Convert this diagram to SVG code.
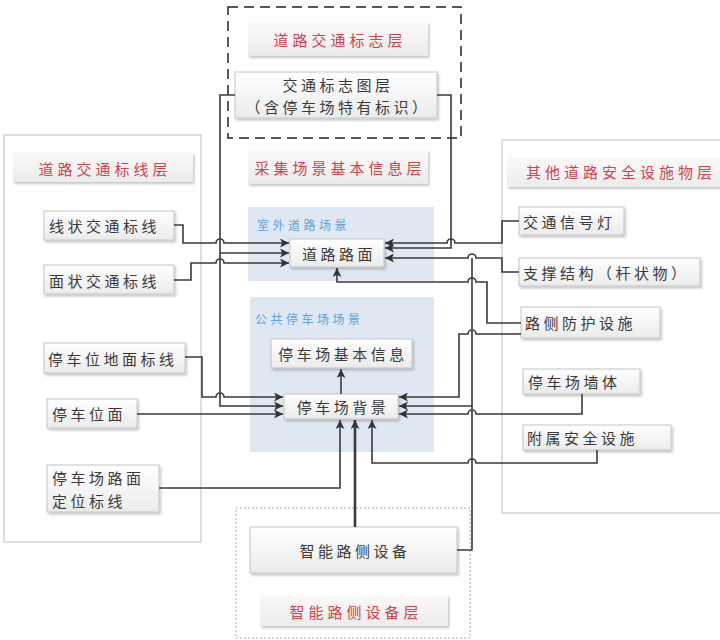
<svg xmlns="http://www.w3.org/2000/svg" width="720" height="640" viewBox="0 0 720 640">
<defs>
<linearGradient id="g" x1="0" y1="0" x2="0" y2="1"><stop offset="0" stop-color="#ffffff"/><stop offset="1" stop-color="#ebebeb"/></linearGradient>
<linearGradient id="gt" x1="0" y1="0" x2="0" y2="1"><stop offset="0" stop-color="#fbf8f8"/><stop offset="1" stop-color="#ececec"/></linearGradient>
<filter id="sh" x="-10%" y="-20%" width="125%" height="150%"><feDropShadow dx="1.5" dy="2" stdDeviation="1.2" flood-color="#000" flood-opacity="0.22"/></filter>
<marker id="ar" viewBox="0 0 10 10" refX="10" refY="5" markerWidth="10" markerHeight="9" markerUnits="userSpaceOnUse" orient="auto"><path d="M0,0 L10,5 L0,10 L2.5,5 Z" fill="#333"/></marker>
</defs>
<style>
.box{fill:url(#g);stroke:#c4c4c4;stroke-width:1;filter:url(#sh)}
.tbox{fill:url(#gt);stroke:none;filter:url(#sh)}
.panel{fill:#fff;stroke:#c8c8c8;stroke-width:1.2}
.scene{fill:#dfe8f2;stroke:none}
text{font-family:"Noto Sans CJK SC","Noto Sans",sans-serif;dominant-baseline:central}
.t{font-size:15px;fill:#3a3a3a;letter-spacing:3.5px}
.r{font-size:15px;fill:#cc4450;letter-spacing:4px}
.b{font-size:12px;fill:#5f9fd8;letter-spacing:3.5px}
.c{fill:none;stroke:#3a3a3a;stroke-width:1.6}
.ca{fill:none;stroke:#3a3a3a;stroke-width:1.6;marker-end:url(#ar)}
</style>

<g id="layer-sign">
<rect x="228" y="7" width="233" height="131" fill="none" stroke="#222" stroke-width="1.5" stroke-dasharray="10 6"/>
<rect class="tbox" x="248" y="22" width="180" height="34"/>
<text class="r" x="340" y="39" text-anchor="middle">道路交通标志层</text>
</g>
<g id="node-sign">
<rect class="box" x="235" y="72" width="202" height="46"/>
<text class="t" x="338" y="84" text-anchor="middle">交通标志图层</text>
<text class="t" x="338" y="106" text-anchor="middle">（含停车场特有标识）</text>
</g>

<g id="layer-marking">
<rect class="panel" x="4" y="135" width="197" height="407"/>
<rect class="tbox" x="13" y="152" width="180" height="30"/>
<text class="r" x="105" y="168" text-anchor="middle">道路交通标线层</text>
</g>
<g id="node-line-mark"><rect class="box" x="44" y="211" width="130" height="29"/><text class="t" x="49" y="225">线状交通标线</text></g>
<g id="node-area-mark"><rect class="box" x="44" y="265" width="130" height="29"/><text class="t" x="49" y="280">面状交通标线</text></g>
<g id="node-space-mark"><rect class="box" x="44" y="343" width="141" height="30"/><text class="t" x="48" y="358">停车位地面标线</text></g>
<g id="node-space-area"><rect class="box" x="47" y="399" width="90" height="29"/><text class="t" x="52" y="413">停车位面</text></g>
<g id="node-locate-mark"><rect class="box" x="47" y="465" width="112" height="47"/><text class="t" x="52" y="477">停车场路面</text><text class="t" x="52" y="500">定位标线</text></g>

<g id="layer-scene">
<rect class="tbox" x="248" y="150" width="180" height="34"/>
<text class="r" x="340" y="167" text-anchor="middle">采集场景基本信息层</text>
<rect class="scene" x="248" y="207" width="186" height="74"/>
<text class="b" x="257" y="224">室外道路场景</text>
<rect class="scene" x="250" y="297" width="184" height="155"/>
<text class="b" x="255" y="318">公共停车场场景</text>
</g>
<g id="node-road"><rect class="box" x="290" y="239" width="94" height="28"/><text class="t" x="339" y="253" text-anchor="middle">道路路面</text></g>
<g id="node-park-info"><rect class="box" x="271" y="339" width="141" height="29"/><text class="t" x="343" y="353" text-anchor="middle">停车场基本信息</text></g>
<g id="node-park-bg"><rect class="box" x="284" y="394" width="114" height="25"/><text class="t" x="343" y="406" text-anchor="middle">停车场背景</text></g>

<g id="layer-safety">
<rect class="panel" x="502" y="140" width="240" height="373"/>
<rect class="tbox" x="507" y="157" width="230" height="30"/>
<text class="r" x="526" y="171">其他道路安全设施物层</text>
</g>
<g id="node-signal"><rect class="box" x="519" y="207" width="105" height="28"/><text class="t" x="523" y="221">交通信号灯</text></g>
<g id="node-pole"><rect class="box" x="519" y="258" width="181" height="28"/><text class="t" x="523" y="272">支撑结构（杆状物）</text></g>
<g id="node-guard"><rect class="box" x="521" y="307" width="139" height="31"/><text class="t" x="525" y="322">路侧防护设施</text></g>
<g id="node-wall"><rect class="box" x="523" y="369" width="117" height="25"/><text class="t" x="528" y="381">停车场墙体</text></g>
<g id="node-aux"><rect class="box" x="523" y="425" width="148" height="25"/><text class="t" x="527" y="437">附属安全设施</text></g>

<g id="layer-device">
<rect x="236" y="508" width="234" height="130" fill="none" stroke="#b8a8a8" stroke-width="1" stroke-dasharray="2 2"/>
<rect class="tbox" x="260" y="595" width="188" height="31"/>
<text class="r" x="356" y="611" text-anchor="middle">智能路侧设备层</text>
</g>
<g id="node-device"><rect class="box" x="250" y="527" width="207" height="46"/><text class="t" x="355" y="550" text-anchor="middle">智能路侧设备</text></g>

<g id="connectors">
<path class="ca" d="M174,225 H183 V243 H216 A4,4 0 0 1 224,243 H289"/>
<path class="ca" d="M174,280 H191 V263 H216 A4,4 0 0 1 224,263 H289"/>
<path class="ca" d="M235,95 H220 V406 H283"/>
<path class="ca" d="M220,253 H289"/>
<path class="ca" d="M185,357 H202 V397 H216 A4,4 0 0 1 224,397 H283"/>
<path class="ca" d="M137,414 H283"/>
<path class="ca" d="M159,488 H340 V420"/>
<path class="ca" d="M355,527 V420" style="stroke-width:2.6"/>
<path class="ca" d="M597,450 V463 H476 A4,4 0 0 0 468,463 H372 V420"/>
<path class="ca" d="M582,394 V414 H476 A4,4 0 0 0 468,414 H399"/>
<path class="c" d="M457,550 H472 V258"/>
<path class="ca" d="M472,406 H399"/>
<path class="ca" d="M519,272 H502 V258 H476 A4,4 0 0 0 468,258 H385"/>
<path class="ca" d="M521,334 H476 A4,4 0 0 0 468,334 H459 V397 H399"/>
<path class="ca" d="M521,323 H487 V282 H476 A4,4 0 0 0 468,282 H337 V268"/>
<path class="ca" d="M519,221 H502 V243 H455 A4,4 0 0 0 447,243 H385"/>
<path class="ca" d="M437,95 H451 V248 H385"/>
<path class="ca" d="M341,394 V369"/>
</g>
</svg>
